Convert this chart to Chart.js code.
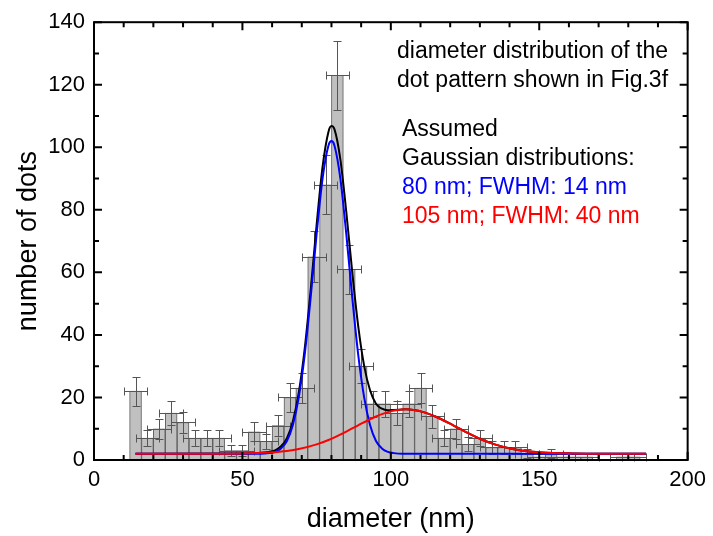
<!DOCTYPE html>
<html>
<head>
<meta charset="utf-8">
<script src="https://cdn.jsdelivr.net/npm/chart.js@4.4.0/dist/chart.umd.min.js"></script>
<style>
  html, body { margin: 0; padding: 0; background: #fff; }
</style>
</head>
<body>
<canvas id="myChart" width="713" height="536"></canvas>
<script>
// histogram bins (bin centre, nm) and counts
const diameters = [14, 18, 22, 26, 30, 34, 38, 42, 46, 50, 54, 58, 62, 66, 70, 74, 78, 82, 86, 90,
  94, 98, 102, 106, 110, 114, 118, 122, 126, 130, 134, 138, 142, 146, 150, 154, 158, 162, 166, 170,
  174, 178, 182];
const counts = [22, 7, 10, 15, 12, 7, 7, 7, 3, 3, 9, 6, 11, 20, 23, 65, 88, 123, 61, 30,
  18, 18, 15, 18, 23, 14, 7, 10, 5, 7, 4, 4, 4, 2, 1, 2, 1, 1, 1, 0,
  0, 1, 1];
const countErr = [4.7, 2.6, 3.2, 3.9, 3.5, 2.6, 2.6, 2.6, 1.7, 1.7, 3, 2.4, 3.3, 4.5, 4.8, 8.1, 9.4, 11.1, 7.8, 5.5,
  4.2, 4.2, 3.9, 4.2, 4.8, 3.7, 2.6, 3.2, 2.2, 2.6, 2, 2, 2, 1.4, 1, 1.4, 1, 1, 1, 0,
  0, 1, 1];
const diameterErr = 4;

// fitted curves, points
const blueX = [14, 56, 59, 61, 63, 65, 67, 69, 71, 73, 75, 77, 79, 80, 81, 83, 85, 87, 89, 91, 93, 95, 97, 99, 101, 104, 186];
const blueY = [2, 2, 2.2, 2.6, 3.7, 6.1, 11.2, 20.1, 33.8, 52, 72.2, 90, 100.6, 102, 100.6, 90, 72.2, 52, 33.8, 20.1, 11.2, 6.1, 3.7, 2.6, 2.2, 2, 2];
const redX = [14, 45, 55, 59, 65, 69, 75, 79, 85, 89, 95, 99, 105, 111, 115, 121, 125, 131, 135, 141, 145, 151, 161, 171, 186];
const redY = [2, 2, 2.2, 2.4, 2.9, 3.5, 5.0, 6.4, 9.1, 11.1, 13.9, 15.3, 16.2, 15.3, 13.9, 11.1, 9.1, 6.4, 5.0, 3.5, 2.9, 2.4, 2.1, 2, 2];
const sumX = [14, 50, 59, 61, 63, 65, 67, 69, 71, 73, 75, 77, 79, 80, 81, 83, 85, 87, 89, 91, 93, 95, 97, 99, 101, 103, 105,
  111, 115, 121, 125, 131, 135, 141, 145, 151, 161, 171, 186];
const sumY = [2, 2.1, 2.6, 3.1, 4.4, 7.0, 12.4, 21.6, 35.7, 54.4, 75.2, 93.7, 105.0, 106.8, 105.8, 96.1, 79.3, 60.1, 42.9, 30.2, 22.3, 18.0, 16.4, 15.9, 16.0, 16.1, 16.2,
  15.3, 13.9, 11.1, 9.1, 6.4, 5.0, 3.5, 2.9, 2.4, 2.1, 2, 2];

const xTicks = [0, 50, 100, 150, 200];
const yTicks = [0, 20, 40, 60, 80, 100, 120, 140];

const notes = [
  { text: "diameter distribution of the", color: "#000", x: 397, y: 52 },
  { text: "dot pattern shown in Fig.3f", color: "#000", x: 397, y: 81 },
  { text: "Assumed", color: "#000", x: 402, y: 130 },
  { text: "Gaussian distributions:", color: "#000", x: 402, y: 159 },
  { text: "80 nm; FWHM: 14 nm", color: "#0000ff", x: 402, y: 188 },
  { text: "105 nm; FWHM: 40 nm", color: "#ff0000", x: 402, y: 217 },
];

const FONT = "'Liberation Sans', Arial, sans-serif";

function pts(xs, ys) {
  return xs.map((v, i) => ({ x: v, y: ys[i] }));
}

const errorBars = {
  id: "errorBars",
  afterDatasetDraw(chart, args) {
    if (args.index !== 0) return;
    const { ctx, scales: { x, y } } = chart;
    ctx.save();
    ctx.strokeStyle = "#555";
    ctx.lineWidth = 1;
    ctx.beginPath();
    diameters.forEach((d, i) => {
      if (counts[i] === 0) return;
      const px = Math.round(x.getPixelForValue(d)) + 0.5;
      const py = Math.round(y.getPixelForValue(counts[i])) + 0.5;
      const top = Math.round(y.getPixelForValue(counts[i] + countErr[i])) + 0.5;
      const bot = Math.round(y.getPixelForValue(counts[i] - countErr[i])) + 0.5;
      const left = Math.round(x.getPixelForValue(d - diameterErr)) + 0.5;
      const right = Math.round(x.getPixelForValue(d + diameterErr)) + 0.5;
      ctx.moveTo(px, top); ctx.lineTo(px, bot);
      ctx.moveTo(px - 4, top); ctx.lineTo(px + 4, top);
      ctx.moveTo(px - 4, bot); ctx.lineTo(px + 4, bot);
      ctx.moveTo(left, py); ctx.lineTo(right, py);
      ctx.moveTo(left, py - 4); ctx.lineTo(left, py + 4);
      ctx.moveTo(right, py - 4); ctx.lineTo(right, py + 4);
    });
    ctx.stroke();
    ctx.restore();
  }
};

const frame = {
  id: "frame",
  afterDraw(chart) {
    const { ctx, chartArea: a, scales: { x, y } } = chart;
    ctx.save();
    ctx.strokeStyle = "#000";
    ctx.lineWidth = 2;
    ctx.beginPath();
    for (let v = 0; v <= 200; v += 10) {
      const len = v % 50 === 0 ? 8 : 5;
      const px = x.getPixelForValue(v);
      ctx.moveTo(px, a.bottom); ctx.lineTo(px, a.bottom - len);
      ctx.moveTo(px, a.top); ctx.lineTo(px, a.top + len);
    }
    for (let v = 0; v <= 140; v += 10) {
      const len = v % 20 === 0 ? 8 : 5;
      const py = y.getPixelForValue(v);
      ctx.moveTo(a.left, py); ctx.lineTo(a.left + len, py);
      ctx.moveTo(a.right, py); ctx.lineTo(a.right - len, py);
    }
    ctx.stroke();
    ctx.strokeRect(a.left, a.top, a.right - a.left, a.bottom - a.top);

    ctx.font = "23px " + FONT;
    ctx.textBaseline = "middle";
    ctx.textAlign = "left";
    notes.forEach((n) => {
      ctx.fillStyle = n.color;
      ctx.fillText(n.text, n.x, n.y);
    });
    ctx.restore();
  }
};

const ctx = document.getElementById("myChart").getContext("2d");
const myChart = new Chart(ctx, {
  type: "bar",
  data: {
    datasets: [
      {
        type: "bar",
        data: pts(diameters, counts),
        backgroundColor: "#c0c0c0",
        borderColor: "#5a5a5a",
        borderWidth: 1,
        barPercentage: 1,
        categoryPercentage: 1,
        grouped: false,
        order: 4,
      },
      {
        type: "line",
        data: pts(sumX, sumY),
        borderColor: "#000",
        borderWidth: 2,
        pointRadius: 0,
        cubicInterpolationMode: "monotone",
        order: 3,
      },
      {
        type: "line",
        data: pts(blueX, blueY),
        borderColor: "#0000ff",
        borderWidth: 2,
        pointRadius: 0,
        cubicInterpolationMode: "monotone",
        order: 2,
      },
      {
        type: "line",
        data: pts(redX, redY),
        borderColor: "#ff0000",
        borderWidth: 2,
        pointRadius: 0,
        cubicInterpolationMode: "monotone",
        order: 1,
      },
    ],
  },
  options: {
    responsive: false,
    animation: false,
    devicePixelRatio: 1,
    layout: { padding: { top: 20, right: 20, left: 0, bottom: 0 } },
    plugins: { legend: { display: false }, tooltip: { enabled: false } },
    scales: {
      x: {
        type: "linear",
        min: 0,
        max: 200,
        offset: false,
        grid: { display: false, drawTicks: false },
        border: { display: false },
        afterBuildTicks: (s) => { s.ticks = xTicks.map((v) => ({ value: v })); },
        afterFit: (s) => { s.height = 76; },
        ticks: { color: "#000", padding: 7, font: { family: FONT, size: 22 } },
        title: { display: true, text: "diameter (nm)", color: "#000", padding: { bottom: 0 }, font: { family: FONT, size: 27 } },
      },
      y: {
        min: 0,
        max: 140,
        grid: { display: false, drawTicks: false },
        border: { display: false },
        afterBuildTicks: (s) => { s.ticks = yTicks.map((v) => ({ value: v })); },
        afterFit: (s) => { s.width = 94; },
        ticks: { color: "#000", padding: 9, font: { family: FONT, size: 22 } },
        title: { display: true, text: "number of dots", color: "#000", padding: { top: 12 }, font: { family: FONT, size: 27 } },
      },
    },
  },
  plugins: [errorBars, frame],
});
</script>
</body>
</html>
